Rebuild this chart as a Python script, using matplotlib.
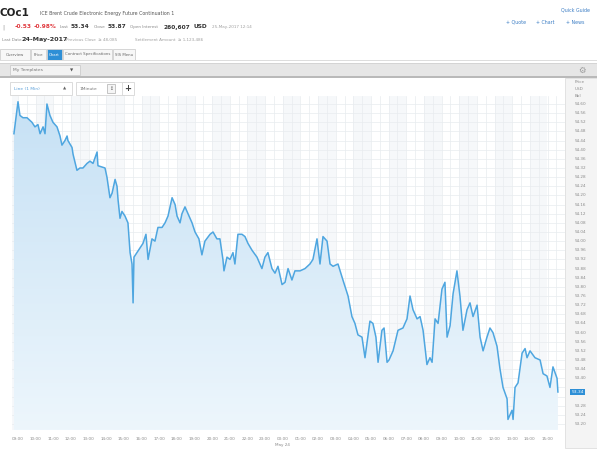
import matplotlib
matplotlib.use("Agg")
import matplotlib.pyplot as plt
import numpy as np
from matplotlib.patches import Rectangle, Polygon
from matplotlib.colors import LinearSegmentedColormap

# Intraday Brent (COc1) trace, hours after 09:00 on 23 May
hours = [-0.23, 0.00, 0.11, 0.28, 0.51, 0.79, 0.96, 1.13, 1.25, 1.42, 1.53, 1.64, 1.81, 1.98, 2.21,
         2.38, 2.49, 2.66, 2.78, 2.83, 3.06, 3.12, 3.34, 3.51, 3.68, 3.91, 4.08, 4.25, 4.48, 4.53,
         4.93, 5.04, 5.21, 5.33, 5.50, 5.61, 5.67, 5.78, 5.89, 6.06, 6.23, 6.35, 6.46, 6.52, 6.57,
         6.74, 6.91, 7.08, 7.25, 7.37, 7.59, 7.76, 7.93, 8.16, 8.33, 8.50, 8.73, 8.90, 9.01, 9.18,
         9.29, 9.46, 9.63, 9.86, 10.03, 10.25,
         10.42, 10.59, 10.88, 11.05, 11.27, 11.44, 11.61, 11.67, 11.84, 12.01, 12.18, 12.29, 12.46,
         12.69, 12.86, 13.03, 13.26, 13.54, 13.82, 13.99, 14.16, 14.39, 14.56, 14.73, 14.96, 15.13,
         15.30, 15.52, 15.69, 15.98, 16.26, 16.54, 16.71, 16.94, 17.11, 17.28, 17.51, 17.68, 17.85,
         18.13, 18.41, 18.70, 18.92, 19.09, 19.26, 19.49, 19.66, 19.94, 20.11, 20.28, 20.40, 20.62,
         20.74, 20.91, 21.02,
         21.25, 21.53, 21.81, 22.04, 22.21, 22.38, 22.61, 22.78, 22.95, 23.17, 23.34, 23.46, 23.63,
         23.80, 24.02, 24.19, 24.31, 24.48, 24.65, 24.87, 25.04, 25.21, 25.44, 25.61, 25.78, 26.01,
         26.18, 26.35, 26.57, 26.74, 26.91, 27.14, 27.31, 27.48, 27.71, 27.76, 27.99, 28.05, 28.16,
         28.33, 28.56, 28.73, 28.84, 29.01, 29.29, 29.58, 29.75, 29.97, 30.14, 30.31, 30.54, 30.59]
prices = [54.47, 54.61, 54.55, 54.54, 54.54, 54.52, 54.50, 54.51, 54.47, 54.50, 54.47, 54.60, 54.55,
          54.52, 54.50, 54.46, 54.42, 54.44, 54.46, 54.44, 54.41, 54.38, 54.31, 54.32, 54.32, 54.34,
          54.35, 54.34, 54.39, 54.33, 54.32, 54.28, 54.19, 54.21, 54.27, 54.24, 54.18, 54.10, 54.13,
          54.11, 54.08, 53.95, 53.90, 53.73, 53.93, 53.95, 53.97, 53.99, 54.03, 53.92, 54.01, 54.00,
          54.06, 54.06, 54.08, 54.11, 54.19, 54.16, 54.11, 54.08, 54.12, 54.15, 54.12, 54.08, 54.04,
          54.01,
          53.94, 54.00, 54.03, 54.04, 54.01, 54.01, 53.92, 53.87, 53.93, 53.92, 53.95, 53.90, 54.03,
          54.03, 54.02, 53.99, 53.96, 53.93, 53.88, 53.93, 53.95, 53.88, 53.86, 53.89, 53.81, 53.82,
          53.88, 53.83, 53.87, 53.87, 53.88, 53.90, 53.92, 54.01, 53.90, 54.02, 54.00, 53.90, 53.89,
          53.90, 53.83, 53.76, 53.67, 53.64, 53.59, 53.58, 53.49, 53.65, 53.64, 53.58, 53.47, 53.61,
          53.62, 53.47, 53.48,
          53.52, 53.61, 53.62, 53.66, 53.76, 53.70, 53.66, 53.67, 53.61, 53.46, 53.49, 53.47, 53.66,
          53.64, 53.79, 53.82, 53.58, 53.63, 53.77, 53.87, 53.76, 53.61, 53.70, 53.73, 53.67, 53.72,
          53.58, 53.52, 53.58, 53.62, 53.60, 53.54, 53.44, 53.36, 53.31, 53.22, 53.26, 53.22, 53.36,
          53.38, 53.51, 53.53, 53.49, 53.52, 53.49, 53.48, 53.42, 53.41, 53.36, 53.45, 53.40, 53.34]

x_labels = ["09:00", "10:00", "11:00", "12:00", "13:00", "14:00", "15:00", "16:00", "17:00",
            "18:00", "19:00", "20:00", "21:00", "22:00", "23:00", "00:00", "01:00", "02:00",
            "03:00", "04:00", "05:00", "06:00", "07:00", "08:00", "09:00", "10:00", "11:00",
            "12:00", "13:00", "14:00", "15:00"]
y_ticks = [round(53.20 + 0.04 * i, 2) for i in range(36)]
last_price = 53.34

W, H = 597, 449
fig = plt.figure(figsize=(W / 100, H / 100), dpi=100)
fig.patch.set_facecolor("white")


def px(x, y):
    return x / W, 1 - y / H


def txt(x, y, s, size=3.2, color="#8a8a8a", weight="normal", ha="left"):
    fig.text(*px(x, y), s, fontsize=size, color=color, weight=weight, ha=ha, va="center")


def box(x0, y0, x1, y1, fc="white", ec="#d4d4d4", lw=0.6, z=-1):
    fig.patches.append(Rectangle(px(x0, y1), (x1 - x0) / W, (y1 - y0) / H,
                                 transform=fig.transFigure, facecolor=fc, edgecolor=ec, lw=lw,
                                 zorder=z))


# header
txt(-1, 13, "COc1", size=7.5, color="#222222", weight="bold")
txt(40, 13, "ICE Brent Crude Electronic Energy Future Continuation 1", size=3.4, color="#555555")
txt(2, 27, "|", size=4.5, color="#999999")
txt(15, 27, "-0.53", size=4.2, color="#e0393e", weight="bold")
txt(34, 27, "-0.98%", size=4.2, color="#e0393e", weight="bold")
txt(60, 27, "Last", size=3.2)
txt(71, 27, "53.34", size=4.2, color="#333333", weight="bold")
txt(94, 27, "Close", size=3.2)
txt(108, 27, "53.87", size=4.2, color="#333333", weight="bold")
txt(130, 27, "Open Interest", size=3.0)
txt(163, 27, "260,607", size=4.2, color="#333333", weight="bold")
txt(194, 27, "USD", size=4.2, color="#333333", weight="bold")
txt(212, 27, "25-May-2017 12:14", size=3.0, color="#a0a0a0")
txt(2, 40, "Last Date", size=3.0)
txt(21, 40, "24-May-2017", size=4.6, color="#333333", weight="bold")
txt(66, 40, "Previous Close  ≥ 48,085", size=3.0, color="#a0a0a0")
txt(135, 40, "Settlement Amount  ≥ 1,123,486", size=3.0, color="#a0a0a0")
txt(590, 10, "Quick Guide", size=3.4, color="#3a7cc4", ha="right")
txt(506, 22, "+ Quote", size=3.4, color="#3a7cc4")
txt(536, 22, "+ Chart", size=3.4, color="#3a7cc4")
txt(566, 22, "+ News", size=3.4, color="#3a7cc4")

# tabs
tabs = [("Overview", 0, 30), ("Price", 31, 46), ("Chart", 47, 62),
        ("Contract Specifications", 63, 112), ("SIS Menu", 113, 135)]
for name, a, b in tabs:
    sel = name == "Chart"
    box(a, 49, b, 60, fc="#2e8fd6" if sel else "#f7f7f7", ec="#d0d0d0", z=1)
    txt((a + b) / 2, 54.5, name, size=2.8, color="white" if sel else "#666666", ha="center")
box(-1, 60, W + 1, 61, fc="#dddddd", ec="none", z=1)

# templates bar
box(-1, 63, W + 1, 77, fc="#e6e6e6", ec="#cfcfcf", z=1)
box(-1, 76, W + 1, 78, fc="#b9b9b9", ec="none", z=1)
box(10, 65, 80, 75, fc="#f3f3f3", ec="#cccccc", z=1)
txt(13, 70, "My Templates", size=3.2, color="#777777")
txt(70, 70, "▼", size=3.0, color="#555555")
txt(582, 70, "⚙", size=6, color="#9a9a9a", ha="center")

# chart panel
x_left, x_right, y_top, y_bot = 12, 565, 96, 430
ax = fig.add_axes([x_left / W, 1 - y_bot / H, (x_right - x_left) / W, (y_bot - y_top) / H])
xmin = (x_left - 18) / 17.65
xmax = (x_right - 18) / 17.65
ymin = 53.20 - 6 * 0.004375
ymax = 53.20 + 328 * 0.004375
ax.set_xlim(xmin, xmax)
ax.set_ylim(ymin, ymax)
ax.set_facecolor("white")

for h in range(-1, 32, 2):
    ax.axvspan(h, h + 1, color="#f6f8fa", lw=0, zorder=0)
for h in np.arange(-0.5, 31.5, 0.5):
    ax.axvline(h, color="#e8ecef", lw=0.5, zorder=0.5)
for v in y_ticks:
    ax.axhline(v, color="#e8ecef", lw=0.5, zorder=0.5)

# gradient fill under the line
grad = np.linspace(0, 1, 256).reshape(-1, 1)
cmap = LinearSegmentedColormap.from_list("f", ["#edf6fc", "#c6e1f5"])
im = ax.imshow(grad, cmap=cmap, aspect="auto", origin="lower",
               extent=[xmin, xmax, ymin, max(prices)], zorder=1)
verts = [(hours[0], ymin)] + list(zip(hours, prices)) + [(hours[-1], ymin)]
clip = Polygon(verts, closed=True, transform=ax.transData, facecolor="none", edgecolor="none")
ax.add_patch(clip)
im.set_clip_path(clip)
ax.plot(hours, prices, color="#4ea6e0", lw=1.1, zorder=3)

ax.set_xticks(range(len(x_labels)))
ax.set_xticklabels(x_labels)
ax.set_yticks([])
ax.tick_params(axis="x", length=0, labelsize=3.0, labelcolor="#8a8a8a", pad=5)
for s in ax.spines.values():
    s.set_visible(False)
txt(18 + 15 * 17.65, 445, "May 24", size=3.0, ha="center")

# right price column
box(x_right, 78, W + 1, 448, fc="#f4f4f4", ec="#dedede", z=-1)
for v in y_ticks:
    if abs(v - last_price) < 0.025:
        continue
    ax.text(xmax + 0.55, v, f"{v:.2f}", fontsize=3.0, color="#8a8a8a", va="center",
            clip_on=False)
ax.text(xmax + 0.35, last_price, f"{last_price:.2f}", fontsize=3.2, color="white", va="center",
        clip_on=False, bbox=dict(boxstyle="square,pad=0.3", fc="#2e8fd6", ec="none"))
txt(575, 82, "Price", size=3.0)
txt(575, 89, "USD", size=3.0)
txt(575, 96, "Bbl", size=3.0)

# chart toolbar
box(10, 82, 72, 95, fc="white", ec="#d6d6d6", z=1)
txt(14, 88.5, "Line (1 Min)", size=3.2, color="#5a9fd8")
txt(63, 88.5, "▲", size=3, color="#666666")
box(76, 82, 124, 95, fc="white", ec="#d6d6d6", z=1)
txt(80, 88.5, "1Minute", size=3.2, color="#777777")
box(107, 84, 115, 93, fc="#f5f5f5", ec="#bbbbbb", z=1)
txt(111, 88.5, "↕", size=3.4, color="#555555", ha="center")
box(122, 82, 134, 95, fc="white", ec="#d6d6d6", z=1)
txt(128, 88.5, "+", size=6, color="#444444", ha="center", weight="bold")

fig.savefig("out.png", dpi=100, facecolor="white")
